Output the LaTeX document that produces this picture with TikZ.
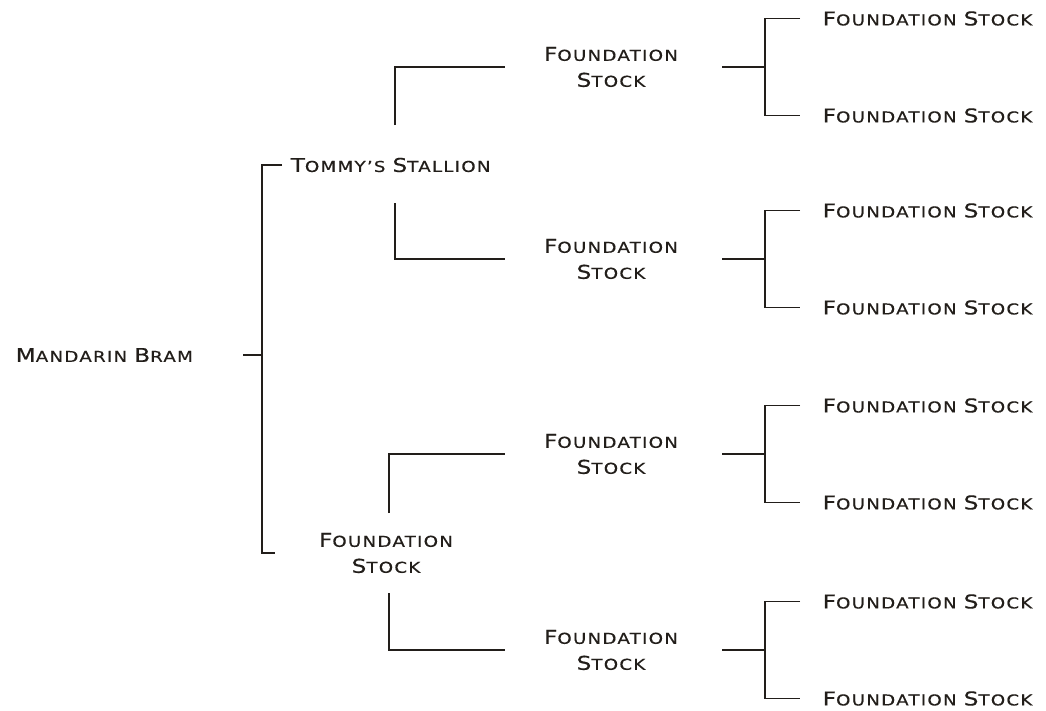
\documentclass[tikz,border=0pt]{standalone}
\usepackage{fontspec}
\setmainfont{DejaVu Sans}[FakeStretch=1.22, LetterSpace=8, FakeBold=0.4]
\definecolor{ink}{HTML}{221E1A}
\newcommand\caps[2]{{\fontsize{19}{26}\selectfont #1}{\fontsize{15}{26}\selectfont #2}}
\tikzset{
  horse/.style={text=ink, inner sep=0pt, font=\fontsize{15}{26}\selectfont},
  pair/.style={horse, align=center},
}
\begin{document}
\begin{tikzpicture}[x=1pt, y=-1pt, line width=1.5pt]
        \useasboundingbox (0,0) rectangle (1046,710);
        \node[horse, anchor=west] (root) at (15,355) {\caps{M}{ANDARIN} \caps{B}{RAM}};
        \node[horse, anchor=west] (sire) at (290,165) {\caps{T}{OMMY'S} \caps{S}{TALLION}};
        \node[pair] (dam) at (386,553) {\caps{F}{OUNDATION}\\\caps{S}{TOCK}};
        \draw[ink] (243,355) -- (262,355);
        \draw[ink] (282,165) -- (262,165) -- (262,553) -- (275,553);
        % parents to grandparents
        \draw[ink] (395,125) |- (505,67);
        \draw[ink] (395,203) |- (505,259);
        \draw[ink] (389,513) |- (505,454);
        \draw[ink] (389,593) |- (505,650);
        \foreach \n/\y in {ss/67, sd/259, ds/454, dd/650} {
            \node[pair] (\n) at (611,\y) {\caps{F}{OUNDATION}\\\caps{S}{TOCK}};
            \draw[ink] (722,\y) -- (765,\y);
            \draw[ink] (800,\y-48.5) -- (765,\y-48.5) -- (765,\y+48.5) -- (800,\y+48.5);
            \node[horse, anchor=west] (\n1) at (822,\y-48.5) {\caps{F}{OUNDATION} \caps{S}{TOCK}};
            \node[horse, anchor=west] (\n2) at (822,\y+48.5) {\caps{F}{OUNDATION} \caps{S}{TOCK}};
        }
    \end{tikzpicture}
\end{document}
